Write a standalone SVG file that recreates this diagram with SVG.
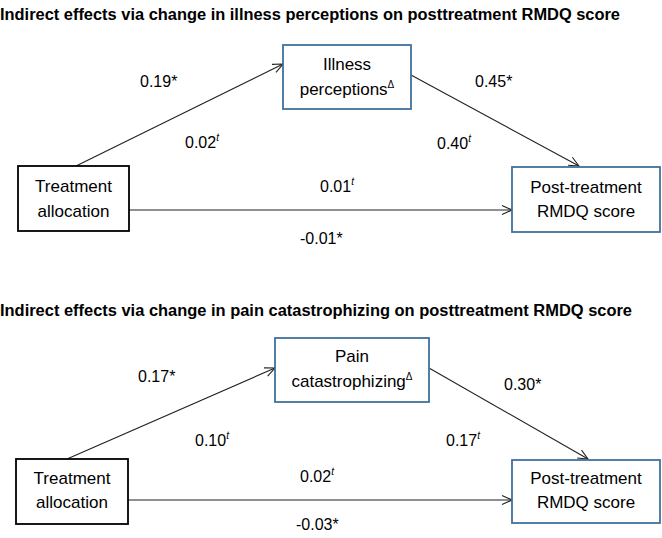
<svg xmlns="http://www.w3.org/2000/svg" width="662" height="538" viewBox="0 0 662 538">
<style>
.title{font-family:"Liberation Sans",Arial,sans-serif;font-weight:bold;font-size:16px;fill:#000}
.nt{font-family:"Liberation Sans",Arial,sans-serif;font-size:17px;fill:#000;text-anchor:middle}
.lb{font-family:"Liberation Sans",Arial,sans-serif;font-size:16px;fill:#000}
.sup{font-size:10px;font-style:italic}
.boxb{fill:#fff;stroke:#41719c;stroke-width:1.8}
.boxk{fill:#fff;stroke:#000;stroke-width:1.8}
.con{stroke:#222;stroke-width:1.1;fill:none;marker-end:url(#arr)}
</style>
<defs>
<marker id="arr" viewBox="0 0 12 12" refX="11" refY="6" markerWidth="12" markerHeight="12" markerUnits="userSpaceOnUse" orient="auto">
<path d="M1,1.5 L11,6 L1,10.5" fill="none" stroke="#222" stroke-width="1.1"/>
</marker>
</defs>
<text class="title" x="0" y="20" textLength="620" lengthAdjust="spacingAndGlyphs">Indirect effects via change in illness perceptions on posttreatment RMDQ score</text>
<text class="title" x="0" y="316" textLength="632" lengthAdjust="spacingAndGlyphs">Indirect effects via change in pain catastrophizing on posttreatment RMDQ score</text>
<g id="connectors">
<line class="con" x1="76" y1="166" x2="283" y2="64"/>
<line class="con" x1="411" y1="75" x2="579" y2="166"/>
<line class="con" x1="129" y1="210" x2="512" y2="210"/>
<line class="con" x1="67" y1="459" x2="275" y2="368"/>
<line class="con" x1="429" y1="368" x2="588" y2="459"/>
<line class="con" x1="128" y1="500" x2="512" y2="500"/>
</g>
<g id="labels">
<text class="lb" x="140" y="87">0.19*</text>
<text class="lb" x="185" y="148">0.02<tspan class="sup" dy="-7">t</tspan></text>
<text class="lb" x="475" y="87">0.45*</text>
<text class="lb" x="437" y="149">0.40<tspan class="sup" dy="-7">t</tspan></text>
<text class="lb" x="320" y="192">0.01<tspan class="sup" dy="-7">t</tspan></text>
<text class="lb" x="300" y="244">-0.01*</text>
<text class="lb" x="138" y="382">0.17*</text>
<text class="lb" x="195" y="446">0.10<tspan class="sup" dy="-7">t</tspan></text>
<text class="lb" x="504" y="390">0.30*</text>
<text class="lb" x="446" y="446">0.17<tspan class="sup" dy="-7">t</tspan></text>
<text class="lb" x="300" y="482">0.02<tspan class="sup" dy="-7">t</tspan></text>
<text class="lb" x="296" y="530">-0.03*</text>
</g>
<g id="n_treat1">
<rect class="boxk" x="18" y="166" width="111" height="65"/>
<text class="nt" x="73.5" y="192">Treatment</text>
<text class="nt" x="73.5" y="217">allocation</text>
</g>
<g id="n_illness">
<rect class="boxb" x="283" y="45" width="128" height="64"/>
<text class="nt" x="347" y="70">Illness</text>
<text class="nt" x="347" y="95">perceptions<tspan font-size="10" dy="-7">Δ</tspan></text>
</g>
<g id="n_post1">
<rect class="boxb" x="512" y="167" width="148" height="65"/>
<text class="nt" x="586" y="193">Post-treatment</text>
<text class="nt" x="586" y="217">RMDQ score</text>
</g>
<g id="n_treat2">
<rect class="boxk" x="16" y="459" width="112" height="65"/>
<text class="nt" x="72" y="484">Treatment</text>
<text class="nt" x="72" y="508">allocation</text>
</g>
<g id="n_pain">
<rect class="boxb" x="275" y="338" width="154" height="64"/>
<text class="nt" x="352" y="362">Pain</text>
<text class="nt" x="352" y="387">catastrophizing<tspan font-size="10" dy="-7">Δ</tspan></text>
</g>
<g id="n_post2">
<rect class="boxb" x="512" y="460" width="148" height="63"/>
<text class="nt" x="586" y="484">Post-treatment</text>
<text class="nt" x="586" y="508">RMDQ score</text>
</g>
</svg>
